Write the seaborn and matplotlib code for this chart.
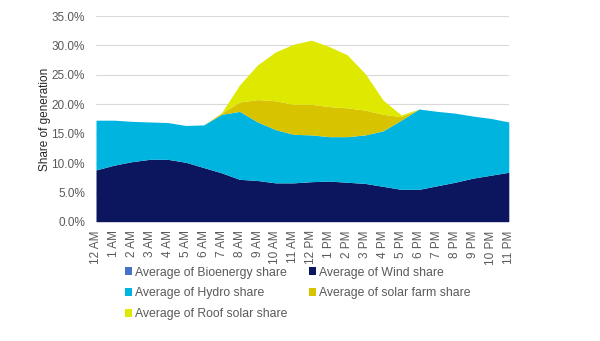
import numpy as np
import pandas as pd
import matplotlib
matplotlib.use("Agg")
import matplotlib.pyplot as plt
from matplotlib.patches import Patch
from matplotlib.ticker import FuncFormatter
import seaborn as sns

hours = ["12 AM", "1 AM", "2 AM", "3 AM", "4 AM", "5 AM", "6 AM", "7 AM", "8 AM", "9 AM",
         "10 AM", "11 AM", "12 PM", "1 PM", "2 PM", "3 PM", "4 PM", "5 PM", "6 PM", "7 PM",
         "8 PM", "9 PM", "10 PM", "11 PM"]

bioenergy = [0.05] * 24
wind = [8.8, 9.6, 10.2, 10.6, 10.6, 10.1, 9.2, 8.3, 7.2, 7.0, 6.6, 6.6,
        6.8, 6.9, 6.7, 6.5, 6.0, 5.5, 5.5, 6.1, 6.7, 7.4, 7.9, 8.4]
hydro = [8.45, 7.65, 6.85, 6.35, 6.25, 6.25, 7.25, 9.95, 11.55, 9.95, 9.05, 8.25,
         7.95, 7.55, 7.75, 8.25, 9.45, 11.75, 13.65, 12.65, 11.75, 10.55, 9.65, 8.55]
solar_farm = [0, 0, 0, 0, 0, 0, 0, 0.2, 1.6, 3.8, 4.9, 5.1,
              5.2, 5.1, 4.9, 4.2, 2.8, 0.6, 0, 0, 0, 0, 0, 0]
roof_solar = [0, 0, 0, 0, 0, 0, 0, 0.1, 2.9, 5.9, 8.3, 10.2,
              10.9, 10.2, 9.0, 6.2, 2.4, 0.3, 0, 0, 0, 0, 0, 0]

series_names = ["Average of Bioenergy share", "Average of Wind share",
                "Average of Hydro share", "Average of solar farm share",
                "Average of Roof solar share"]
colors = ["#4472c4", "#0c165e", "#00b4e0", "#d8c300", "#dfe800"]

df = pd.DataFrame({"hour": hours, series_names[0]: bioenergy, series_names[1]: wind,
                   series_names[2]: hydro, series_names[3]: solar_farm,
                   series_names[4]: roof_solar})

sns.set_theme(style="white")
plt.rcParams["font.family"] = ["Liberation Sans", "DejaVu Sans"]

fig = plt.figure(figsize=(6.0, 3.41), dpi=100)
ax = fig.add_axes([0.16, 0.349, 0.688, 0.604])

x = np.arange(len(hours))
ax.stackplot(x, [df[n] for n in series_names], colors=colors, linewidth=0, zorder=2)

ax.set_xlim(0, len(hours) - 1)
ax.set_ylim(0, 35)
ax.set_yticks(np.arange(0, 36, 5))
ax.yaxis.set_major_formatter(FuncFormatter(lambda v, p: f"{v:.1f}%"))
ax.set_xticks(x)
ax.set_xticklabels(hours, rotation=90)
ax.tick_params(axis="both", labelsize=8.5, colors="#595959", length=0)
ax.tick_params(axis="y", pad=8)
ax.tick_params(axis="x", pad=6)
ax.grid(axis="y", color="#d9d9d9", linewidth=0.8, zorder=0)
ax.set_axisbelow(True)
ax.set_ylabel("Share of generation", fontsize=8.5, color="#262626", labelpad=0)
sns.despine(ax=ax, left=True, bottom=True)

order = [0, 2, 4, 1, 3]
handles = [Patch(facecolor=colors[i], edgecolor="none") for i in order]
labels = [series_names[i] for i in order]
fig.legend(handles, labels, loc="upper left", bbox_to_anchor=(0.208, 0.218),
           ncol=2, frameon=False, fontsize=8.8, labelcolor="#595959",
           handlelength=0.6, handleheight=0.6, handletextpad=0.25,
           columnspacing=1.75, labelspacing=0.72, borderaxespad=0, borderpad=0)

fig.savefig("out.png", dpi=100)
